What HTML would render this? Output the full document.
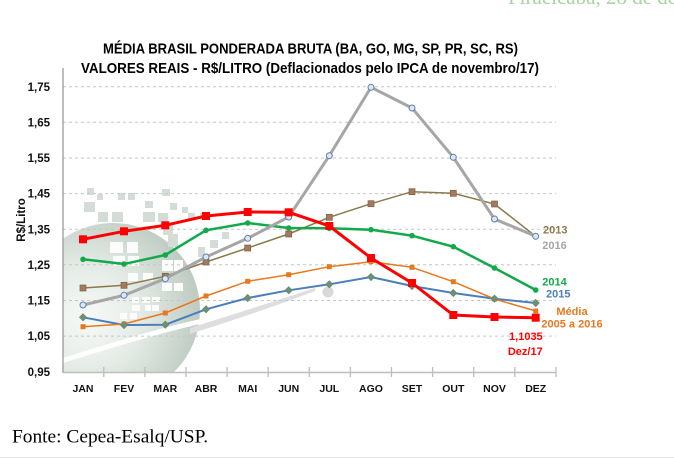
<!DOCTYPE html>
<html><head><meta charset="utf-8"><style>
html,body{margin:0;padding:0;background:#fff;}
svg{display:block;}
</style></head><body>
<svg width="674" height="458" viewBox="0 0 674 458" xmlns="http://www.w3.org/2000/svg">
<defs>
<radialGradient id="rg" cx="88" cy="318" r="118" gradientUnits="userSpaceOnUse">
<stop offset="0" stop-color="#f7faf7"/>
<stop offset="0.45" stop-color="#e4ebe6"/>
<stop offset="1" stop-color="#bac8be"/>
</radialGradient>
<clipPath id="cp"><rect x="63" y="60" width="500" height="312.5"/></clipPath>
</defs>
<rect width="674" height="458" fill="#fff"/>
<text x="508" y="4" font-family="Liberation Serif, serif" font-size="21" fill="#a9d3a4">Piracicaba, 28 de de</text>
<line x1="0" y1="457.5" x2="674" y2="457.5" stroke="#e4e4e4" stroke-width="1"/>

<!-- decoration -->
<g clip-path="url(#cp)">
<circle cx="113" cy="310" r="87" fill="url(#rg)"/>
<g fill="#d3ddd6">
<rect x="87" y="188" width="7" height="7"/><rect x="97" y="194" width="6" height="6"/>
<rect x="118" y="193" width="7" height="7"/><rect x="128" y="193" width="7" height="7"/>
<rect x="162" y="189" width="8" height="7"/><rect x="84" y="202" width="11" height="10"/>
<rect x="145" y="201" width="8" height="7"/><rect x="170" y="203" width="7" height="7"/>
<rect x="182" y="207" width="6" height="6"/><rect x="98" y="212" width="10" height="10"/>
<rect x="112" y="212" width="11" height="10"/><rect x="143" y="212" width="12" height="10"/>
<rect x="158" y="213" width="10" height="9"/><rect x="188" y="213" width="7" height="7"/>
<rect x="200" y="213" width="7" height="7"/><rect x="163" y="223" width="10" height="12"/>
<rect x="168" y="234" width="10" height="13"/><rect x="198" y="247" width="7" height="10"/>
<rect x="210" y="240" width="8" height="8"/><rect x="222" y="232" width="7" height="7"/>
</g>
<g fill="#fbfcfb">
<rect x="110" y="242" width="13" height="11"/><rect x="127" y="242" width="11" height="11"/>
<rect x="113" y="256" width="12" height="10"/><rect x="128" y="256" width="11" height="10"/>
<rect x="128" y="273" width="10" height="8"/><rect x="143" y="273" width="10" height="8"/>
<rect x="162" y="260" width="11" height="11"/><rect x="174" y="260" width="9" height="11"/>
<rect x="162" y="283" width="10" height="8"/><rect x="174" y="283" width="9" height="8"/>
<rect x="132" y="297" width="7" height="6"/><rect x="142" y="297" width="8" height="6"/>
<rect x="152" y="297" width="8" height="5"/><rect x="132" y="305" width="8" height="6"/>
<rect x="145" y="305" width="6" height="6"/><rect x="120" y="313" width="7" height="6"/>
<rect x="130" y="313" width="7" height="6"/><rect x="152" y="305" width="7" height="6"/>
</g>
<path d="M60,359 Q160,327 210,317 L210,322 Q160,332 60,364 Z" fill="#ffffff"/>
<path d="M190,328 Q260,306 315,288 L315,291 Q260,312 190,334 Z" fill="#dedede"/>
<circle cx="328" cy="292" r="5.5" fill="#d9d9d9"/>
</g>

<!-- grid -->
<g stroke="#c6c6c6" stroke-width="1" stroke-dasharray="3,3">
<line x1="63" y1="86.7" x2="556" y2="86.7"/>
<line x1="63" y1="122.3" x2="556" y2="122.3"/>
<line x1="63" y1="158" x2="556" y2="158"/>
<line x1="63" y1="193.6" x2="556" y2="193.6"/>
<line x1="63" y1="229.2" x2="556" y2="229.2"/>
<line x1="63" y1="264.8" x2="556" y2="264.8"/>
<line x1="63" y1="300.5" x2="556" y2="300.5"/>
<line x1="63" y1="336.1" x2="556" y2="336.1"/>
</g>
<!-- axes -->
<line x1="63" y1="68" x2="63" y2="373" stroke="#9a9a9a" stroke-width="1.3"/>
<line x1="63" y1="372.5" x2="556" y2="372.5" stroke="#bdbdbd" stroke-width="1.5"/>
<g stroke="#bdbdbd" stroke-width="1.3">
<line x1="103.8" y1="367" x2="103.8" y2="377"/><line x1="144.9" y1="367" x2="144.9" y2="377"/>
<line x1="186" y1="367" x2="186" y2="377"/><line x1="227.1" y1="367" x2="227.1" y2="377"/>
<line x1="268.2" y1="367" x2="268.2" y2="377"/><line x1="309.3" y1="367" x2="309.3" y2="377"/>
<line x1="350.4" y1="367" x2="350.4" y2="377"/><line x1="391.5" y1="367" x2="391.5" y2="377"/>
<line x1="432.6" y1="367" x2="432.6" y2="377"/><line x1="473.7" y1="367" x2="473.7" y2="377"/>
<line x1="514.8" y1="367" x2="514.8" y2="377"/><line x1="556" y1="367" x2="556" y2="377"/>
</g>

<!-- title -->
<g font-family="Liberation Sans, Arial, sans-serif" font-weight="bold" fill="#000">
<text x="103" y="53.5" font-size="15" textLength="415" lengthAdjust="spacingAndGlyphs">MÉDIA BRASIL PONDERADA BRUTA (BA, GO, MG, SP, PR, SC, RS)</text>
<text x="81" y="73" font-size="15" textLength="458" lengthAdjust="spacingAndGlyphs">VALORES REAIS - R$/LITRO (Deflacionados pelo IPCA de novembro/17)</text>
</g>

<!-- y labels -->
<g font-family="Liberation Sans, Arial, sans-serif" font-weight="bold" font-size="11.5" fill="#111" text-anchor="end">
<text x="50" y="90.8">1,75</text><text x="50" y="126.4">1,65</text>
<text x="50" y="162.1">1,55</text><text x="50" y="197.7">1,45</text>
<text x="50" y="233.3">1,35</text><text x="50" y="268.9">1,25</text>
<text x="50" y="304.6">1,15</text><text x="50" y="340.2">1,05</text>
<text x="50" y="375.8">0,95</text>
</g>
<text transform="translate(25,220) rotate(-90)" text-anchor="middle" font-family="Liberation Sans, Arial, sans-serif" font-weight="bold" font-size="11.5" fill="#111">R$/Litro</text>

<!-- x labels -->
<g font-family="Liberation Sans, Arial, sans-serif" font-weight="bold" font-size="10.5" fill="#111" text-anchor="middle">
<text x="83" y="392">JAN</text><text x="124" y="392">FEV</text><text x="165.3" y="392">MAR</text>
<text x="206" y="392">ABR</text><text x="247.7" y="392">MAI</text><text x="288.7" y="392">JUN</text>
<text x="329.3" y="392">JUL</text><text x="371" y="392">AGO</text><text x="412" y="392">SET</text>
<text x="453.3" y="392">OUT</text><text x="494.5" y="392">NOV</text><text x="535.7" y="392">DEZ</text>
</g>

<!-- series: 2015 blue -->
<polyline fill="none" stroke="#4a7fbd" stroke-width="2" points="83,317.3 124,325 165.3,324.7 206,309.3 247.7,298 288.7,290.3 329.3,284.3 371,277 412,286 453.3,293 494.5,298.7 535.7,303"/>
<!-- Media orange -->
<polyline fill="none" stroke="#e8781e" stroke-width="1.5" points="83,326.7 124,324 165.3,313 206,296 247.7,281.3 288.7,274.7 329.3,266.7 371,261.7 412,267.3 453.3,281.7 494.5,299 535.7,311"/>
<g fill="#e8781e">
<rect x="80.5" y="324.2" width="5" height="5"/><rect x="121.5" y="321.5" width="5" height="5"/><rect x="162.8" y="310.5" width="5" height="5"/><rect x="203.5" y="293.5" width="5" height="5"/><rect x="245.2" y="278.8" width="5" height="5"/><rect x="286.2" y="272.2" width="5" height="5"/><rect x="326.8" y="264.2" width="5" height="5"/><rect x="368.5" y="259.2" width="5" height="5"/><rect x="409.5" y="264.8" width="5" height="5"/><rect x="450.8" y="279.2" width="5" height="5"/><rect x="492" y="296.5" width="5" height="5"/><rect x="533.2" y="308.5" width="5" height="5"/>
</g>
<g fill="#6e9078" stroke="#5f8a6d" stroke-width="0.8">
<path d="M83,313.8 L86.5,317.3 L83,320.8 L79.5,317.3Z"/><path d="M124,321.5 L127.5,325 L124,328.5 L120.5,325Z"/><path d="M165.3,321.2 L168.8,324.7 L165.3,328.2 L161.8,324.7Z"/><path d="M206,305.8 L209.5,309.3 L206,312.8 L202.5,309.3Z"/><path d="M247.7,294.5 L251.2,298 L247.7,301.5 L244.2,298Z"/><path d="M288.7,286.8 L292.2,290.3 L288.7,293.8 L285.2,290.3Z"/><path d="M329.3,280.8 L332.8,284.3 L329.3,287.8 L325.8,284.3Z"/><path d="M371,273.5 L374.5,277 L371,280.5 L367.5,277Z"/><path d="M412,282.5 L415.5,286 L412,289.5 L408.5,286Z"/><path d="M453.3,289.5 L456.8,293 L453.3,296.5 L449.8,293Z"/><path d="M494.5,295.2 L498,298.7 L494.5,302.2 L491,298.7Z"/><path d="M535.7,299.5 L539.2,303 L535.7,306.5 L532.2,303Z"/>
</g>
<!-- 2013 brown -->
<polyline fill="none" stroke="#8a7a4c" stroke-width="1.5" points="83,288 124,285.3 165.3,276.3 206,262 247.7,248 288.7,234 329.3,217.3 371,203.7 412,191.7 453.3,193.3 494.5,204 535.7,236.3"/>
<g fill="#a47a5a" stroke="#7e5f45" stroke-width="0.7">
<rect x="80" y="285" width="6" height="6"/><rect x="121" y="282.3" width="6" height="6"/><rect x="162.3" y="273.3" width="6" height="6"/><rect x="203" y="259" width="6" height="6"/><rect x="244.7" y="245" width="6" height="6"/><rect x="285.7" y="231" width="6" height="6"/><rect x="326.3" y="214.3" width="6" height="6"/><rect x="368" y="200.7" width="6" height="6"/><rect x="409" y="188.7" width="6" height="6"/><rect x="450.3" y="190.3" width="6" height="6"/><rect x="491.5" y="201" width="6" height="6"/>
</g>
<!-- 2014 green -->
<polyline fill="none" stroke="#12a94a" stroke-width="2.5" points="83,259.3 124,264 165.3,255 206,230.3 247.7,223 288.7,228 329.3,228.3 371,229.7 412,235.7 453.3,246.7 494.5,268 535.7,290"/>
<g fill="#12a94a">
<circle cx="83" cy="259.3" r="2.8"/><circle cx="124" cy="264" r="2.8"/><circle cx="165.3" cy="255" r="2.8"/><circle cx="206" cy="230.3" r="2.8"/><circle cx="247.7" cy="223" r="2.8"/><circle cx="288.7" cy="228" r="2.8"/><circle cx="329.3" cy="228.3" r="2.8"/><circle cx="371" cy="229.7" r="2.8"/><circle cx="412" cy="235.7" r="2.8"/><circle cx="453.3" cy="246.7" r="2.8"/><circle cx="494.5" cy="268" r="2.8"/><circle cx="535.7" cy="290" r="2.8"/>
</g>
<!-- 2016 gray -->
<polyline fill="none" stroke="#a6a6a6" stroke-width="3" points="83,305 124,295.3 165.3,278.7 206,257 247.7,238.3 288.7,217 329.3,155.7 371,87.3 412,108 453.3,157.3 494.5,219 535.7,236.3"/>
<g fill="#dfe6ef" stroke="#5b7fae" stroke-width="1">
<circle cx="83" cy="305" r="3"/><circle cx="124" cy="295.3" r="3"/><circle cx="165.3" cy="278.7" r="3"/><circle cx="206" cy="257" r="3"/><circle cx="247.7" cy="238.3" r="3"/><circle cx="288.7" cy="217" r="3"/><circle cx="329.3" cy="155.7" r="3"/><circle cx="371" cy="87.3" r="3"/><circle cx="412" cy="108" r="3"/><circle cx="453.3" cy="157.3" r="3"/><circle cx="494.5" cy="219" r="3"/><circle cx="535.7" cy="236.3" r="3"/>
</g>
<!-- 2017 red -->
<polyline fill="none" stroke="#ff0000" stroke-width="3" points="83,239.3 124,231.3 165.3,225.3 206,216 247.7,212 288.7,212.3 329.3,226 371,258 412,283 453.3,315 494.5,317 535.7,317.7"/>
<g fill="#ff0000">
<rect x="79" y="235.3" width="8" height="8"/><rect x="120" y="227.3" width="8" height="8"/><rect x="161.3" y="221.3" width="8" height="8"/><rect x="202" y="212" width="8" height="8"/><rect x="243.7" y="208" width="8" height="8"/><rect x="284.7" y="208.3" width="8" height="8"/><rect x="325.3" y="222" width="8" height="8"/><rect x="367" y="254" width="8" height="8"/><rect x="408" y="279" width="8" height="8"/><rect x="449.3" y="311" width="8" height="8"/><rect x="490.5" y="313" width="8" height="8"/><rect x="531.7" y="313.7" width="8" height="8"/>
</g>

<!-- series labels -->
<g font-family="Liberation Sans, Arial, sans-serif" font-weight="bold" font-size="11">
<text x="543" y="233.3" fill="#8a7a4c">2013</text>
<text x="542.3" y="249" fill="#a6a6a6">2016</text>
<text x="542.3" y="285.7" fill="#12a94a">2014</text>
<text x="546" y="297.7" fill="#4a7fbd">2015</text>
<text x="572" y="315" fill="#e8781e" text-anchor="middle">Média</text>
<text x="572" y="327.3" fill="#e8781e" text-anchor="middle">2005 a 2016</text>
<text x="542.7" y="340" fill="#ff0000" text-anchor="end">1,1035</text>
<text x="542.7" y="355" fill="#ff0000" text-anchor="end">Dez/17</text>
</g>

<text x="12" y="442.7" font-family="Liberation Serif, Times New Roman, serif" font-size="19.4" fill="#000">Fonte: Cepea-Esalq/USP.</text>
</svg>
</body></html>
